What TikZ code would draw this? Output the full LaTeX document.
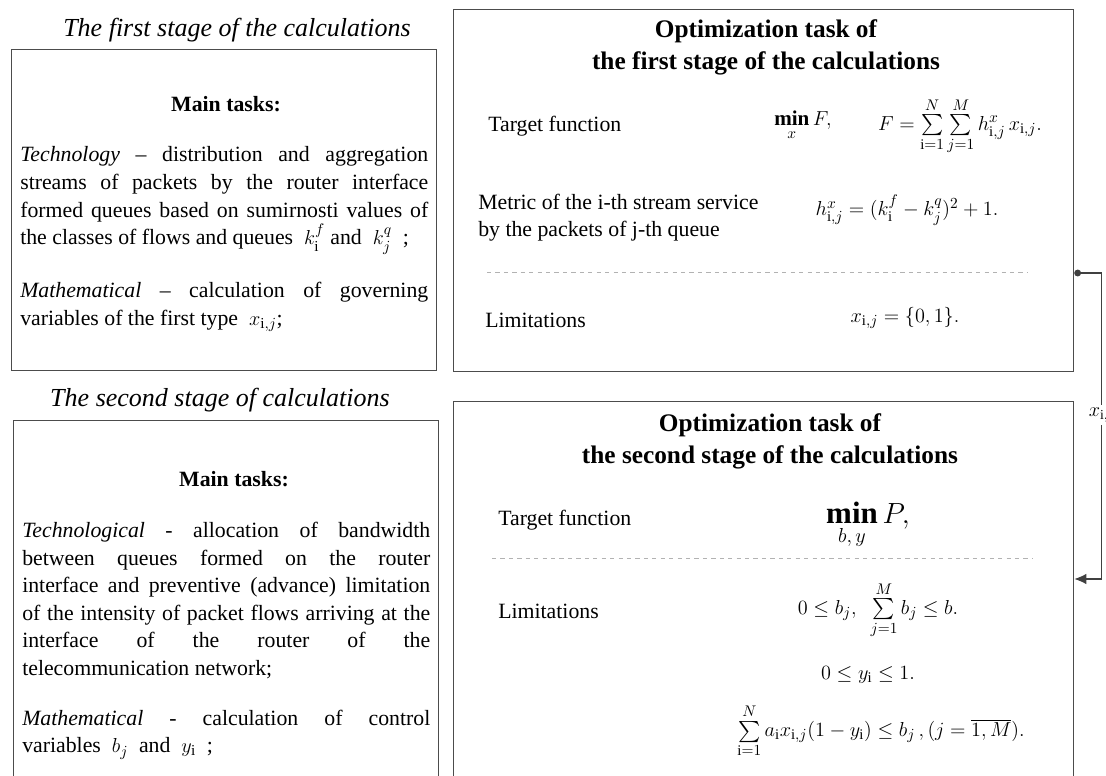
\documentclass[tikz,border=0pt]{standalone}
\usepackage{amsmath,amssymb}
\usepackage{fontspec}
\setmainfont{Liberation Serif}
\usetikzlibrary{arrows.meta,positioning}
\hyphenpenalty=10000
\exhyphenpenalty=10000
\tolerance=9999

\begin{document}
\begin{tikzpicture}[
  stagebox/.style={draw=black!70, line width=0.9pt, anchor=north west, inner sep=0pt, minimum width=10.625cm},
  taskbox/.style={draw=black!70, line width=0.9pt, anchor=north west, inner sep=0pt, minimum width=15.5cm},
  stagetitle/.style={font=\fontsize{18.5}{22}\selectfont\itshape},
  optitle/.style={align=center, font=\fontsize{18}{22.7}\selectfont\bfseries},
  mainhead/.style={font=\fontsize{15.5}{19}\selectfont\bfseries},
  para/.style={text width=10.2cm, align=justify, inner sep=0pt, anchor=west, font=\fontsize{15.5}{19.6}\selectfont},
  lab/.style={anchor=west, inner sep=0pt, align=left, font=\fontsize{15.5}{19.4}\selectfont},
  fml/.style={inner sep=0pt, font=\fontsize{15}{18}\selectfont},
  sep/.style={dashed, gray!60, line width=0.6pt},
  link/.style={draw=black!75, line width=0.8pt}
]
\useasboundingbox (0,0) rectangle (27.65,-19.4);

% ---------- First stage (left) ----------
\node[stagetitle] (titleone) at (5.925,-0.75) {The first stage of the calculations};
\node[stagebox, minimum height=8.025cm] (stageone) at (0.275,-1.225) {};
\node[mainhead] (headone) at (5.65,-2.6) {Main tasks:};
\node[para] (techone) at (0.5,-5.0125)
  {\textit{Technology} -- distribution and aggregation\linebreak
   streams of packets by the router interface\linebreak
   formed queues based on sumirnosti values of\linebreak
   the classes of flows and queues \ $k_{\mathrm{i}}^{f}$ and \ $k_{j}^{q}$ \ ;};
\node[para] (mathone) at (0.5,-7.675)
  {\textit{Mathematical} -- calculation of governing\linebreak
   variables of the first type \ $x_{\mathrm{i},j}$;};

% ---------- Second stage (left) ----------
\node[stagetitle] (titletwo) at (5.5,-10.0) {The second stage of calculations};
\node[stagebox, minimum height=10cm] (stagetwo) at (0.325,-10.5) {};
\node[mainhead] (headtwo) at (5.85,-11.975) {Main tasks:};
\node[para] (techtwo) at (0.55,-15.0125)
  {\textit{Technological} - allocation of bandwidth\linebreak
   between queues formed on the router\linebreak
   interface and preventive (advance) limitation\linebreak
   of the intensity of packet flows arriving at the\linebreak
   interface of the router of the\linebreak
   telecommunication network;};
\node[para] (mathtwo) at (0.55,-18.3625)
  {\textit{Mathematical} - calculation of control\linebreak
   variables \ $b_{j}$ \ and \ $y_{\mathrm{i}}$ \ ;};

% ---------- Optimization task, first stage ----------
\node[taskbox, minimum height=9.05cm] (optone) at (11.325,-0.225) {};
\node[optitle] (optonehead) at (19.15,-1.175)
  {Optimization task of\\the first stage of the calculations};
\node[lab] (targetone) at (12.2,-3.15) {Target function};
\node[fml] (minone) at (20.075,-3.15) {$\mathop{\mathbf{min}}\limits_{x} F,$};
\node[fml] (sumone) at (24.0,-3.15)
  {$F=\sum\limits_{\mathrm{i}=1}^{N}\sum\limits_{j=1}^{M} h^{x}_{\mathrm{i},j}\,x_{\mathrm{i},j}.$};
\node[lab] (metric) at (11.95,-5.45) {Metric of the i-th stream service\\by the packets of j-th queue};
\node[fml] (hform) at (22.675,-5.25)
  {$h^{x}_{\mathrm{i},j}=(k_{\mathrm{i}}^{f}-k_{j}^{q})^{2}+1.$};
\draw[sep] (12.175,-6.8) -- (25.675,-6.8);
\node[lab] (limone) at (12.125,-8.0) {Limitations};
\node[fml] (xform) at (22.625,-7.95) {$x_{\mathrm{i},j}=\{0,1\}.$};

% ---------- Optimization task, second stage ----------
\node[taskbox, minimum height=10.475cm] (opttwo) at (11.325,-10.025) {};
\node[optitle] (opttwohead) at (19.25,-11.0375)
  {Optimization task of\\the second stage of the calculations};
\node[lab] (targettwo) at (12.45,-13.0) {Target function};
\node[fml, font=\fontsize{22}{26}\selectfont] (mintwo) at (21.7,-13.15)
  {$\mathop{\mathbf{min}}\limits_{b,\,y} P,$};
\draw[sep] (12.3,-13.95) -- (25.825,-13.95);
\node[lab] (limtwo) at (12.45,-15.275) {Limitations};
\node[fml] (bform) at (21.95,-15.25)
  {$0\le b_{j},\ \ \sum\limits_{j=1}^{M} b_{j}\le b.$};
\node[fml] (yform) at (21.7,-16.875) {$0\le y_{\mathrm{i}}\le 1.$};
\node[fml] (aform) at (22.025,-18.275)
  {$\sum\limits_{\mathrm{i}=1}^{N} a_{\mathrm{i}}x_{\mathrm{i},j}(1-y_{\mathrm{i}})\le b_{j}\,,(j=\overline{1,M}).$};

% ---------- x_{i,j} handed from stage one to stage two ----------
\coordinate (tapy) at (0,-6.825);
\coordinate (arry) at (0,-14.475);
\draw[link, {Circle[length=1.7mm]}-{Latex[length=3mm, width=2.6mm]}]
  (optone.east |- tapy) -- ++(0.675,0) |- (opttwo.east |- arry);
\node[fill=white, inner sep=2pt, font=\fontsize{14}{16}\selectfont] (xlab) at (27.55,-10.375) {$x_{\mathrm{i},j}$};

\end{tikzpicture}
\end{document}
